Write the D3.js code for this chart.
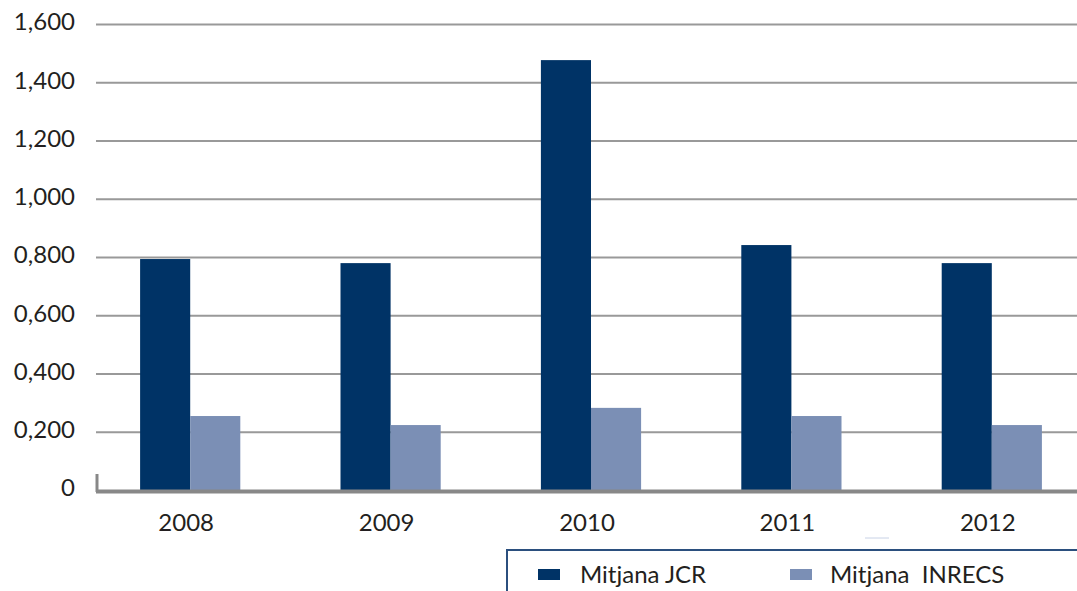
<!DOCTYPE html>
<html>
<head>
<meta charset="utf-8">
<script src="https://cdn.jsdelivr.net/npm/d3@7"></script>
<style>
	body { margin: 0; background: #fff; }
	svg { display: block; font-family: Lato, "Open Sans", sans-serif; }
</style>
</head>
<body>
<div id="chartDiv"></div>
<script>
;(function() {

	var years = ["2008", "2009", "2010", "2011", "2012"];
	var jcrValues = [793, 779, 1476, 841, 779];
	var inrecsValues = [254, 223, 282, 254, 223];
	var seriesNames = ["Mitjana JCR", "Mitjana  INRECS"];
	var yTicks = [0, 200, 400, 600, 800, 1000, 1200, 1400, 1600];
	var yTickLabels = ["0", "0,200", "0,400", "0,600", "0,800", "1,000", "1,200", "1,400", "1,600"];

	var width = 1077;
	var height = 591;
	var colors = ["#003366", "#7b8fb5"];
	var textColor = "#231f20";

	var chart = d3.select("#chartDiv").append("svg")
		.attr("width", width)
		.attr("height", height);

	// x scale: one band per year, bars are a quarter of a band each
	var xScale = d3.scaleBand()
		.domain(years)
		.range([90, 1092]);

	var inner = d3.scaleBand()
		.domain([0, 1])
		.range([xScale.bandwidth() / 4, xScale.bandwidth() * 3 / 4]);

	var yScale = d3.scaleLinear()
		.domain([0, 1600])
		.range([490, 24]);

	// gridlines
	var yAxis = d3.axisLeft(yScale)
		.tickValues(yTicks.slice(1))
		.tickSize(-(width - 96))
		.tickFormat("");

	chart.append("g")
		.attr("class", "grid")
		.attr("transform", "translate(96,0)")
		.call(yAxis)
		.call(function(g) { g.select(".domain").remove(); })
		.call(function(g) {
			g.selectAll(".tick line")
				.attr("stroke", "#999")
				.attr("stroke-width", 2);
		});

	// y labels
	chart.append("g")
		.selectAll("text")
		.data(yTicks)
		.enter().append("text")
		.attr("x", 75)
		.attr("y", function(d) { return yScale(d) - 2; })
		.attr("dy", "0.35em")
		.attr("text-anchor", "end")
		.style("font-size", "24px")
		.style("fill", textColor)
		.text(function(d, i) { return yTickLabels[i]; });

	// bars
	var groups = chart.append("g")
		.selectAll("g")
		.data(years)
		.enter().append("g")
		.attr("transform", function(d) { return "translate(" + xScale(d) + ",0)"; });

	groups.selectAll("rect")
		.data(function(d, i) { return [jcrValues[i], inrecsValues[i]]; })
		.enter().append("rect")
		.attr("x", function(d, j) { return inner(j); })
		.attr("width", inner.bandwidth())
		.attr("y", function(d) { return yScale(d); })
		.attr("height", function(d) { return yScale(0) - yScale(d); })
		.style("fill", function(d, j) { return colors[j]; });

	// baseline
	chart.append("line")
		.attr("x1", 96).attr("x2", width)
		.attr("y1", 491.5).attr("y2", 491.5)
		.attr("stroke", "#888")
		.attr("stroke-width", 4);

	chart.append("line")
		.attr("x1", 97).attr("x2", 97)
		.attr("y1", 474).attr("y2", 492)
		.attr("stroke", "#888")
		.attr("stroke-width", 3);

	// x labels
	chart.append("g")
		.selectAll("text")
		.data(years)
		.enter().append("text")
		.attr("x", function(d) { return xScale(d) + xScale.bandwidth() / 2 - 4; })
		.attr("y", 523)
		.attr("dy", "0.35em")
		.attr("text-anchor", "middle")
		.style("font-size", "24px")
		.style("fill", textColor)
		.text(function(d) { return d; });

	// stray mark under 2011/2012
	chart.append("line")
		.attr("x1", 865).attr("x2", 889)
		.attr("y1", 538).attr("y2", 538)
		.attr("stroke", "#c8d2e6")
		.attr("stroke-width", 1);

	// legend box
	chart.append("rect")
		.attr("x", 507).attr("y", 550)
		.attr("width", 600).attr("height", 80)
		.style("fill", "none")
		.style("stroke", "#2b4f7e")
		.style("stroke-width", 2);

	var legend = chart.append("g")
		.selectAll("g")
		.data(seriesNames)
		.enter().append("g")
		.attr("transform", function(d, i) { return "translate(" + (538 + i * 252) + ",569)"; });

	legend.append("rect")
		.attr("width", 22)
		.attr("height", 11)
		.style("fill", function(d, i) { return colors[i]; });

	legend.append("text")
		.attr("x", function(d, i) { return i == 0 ? 42 : 40; })
		.attr("y", 6)
		.attr("dy", "0.35em")
		.style("font-size", "24px")
		.style("fill", textColor)
		.style("white-space", "pre")
		.attr("xml:space", "preserve")
		.text(function(d) { return d; });

})();
</script>
</body>
</html>
